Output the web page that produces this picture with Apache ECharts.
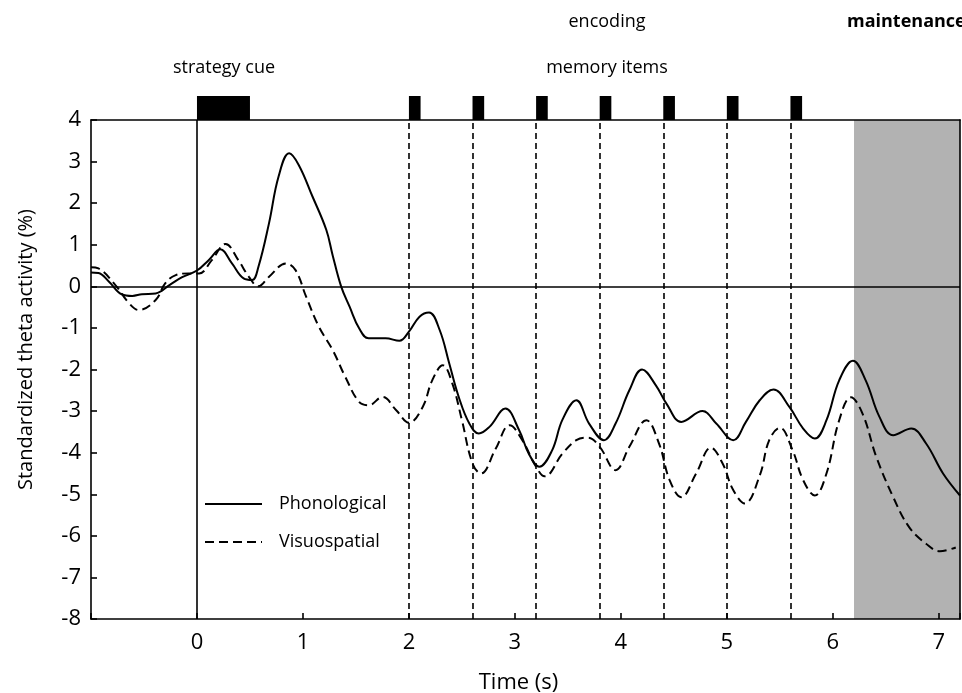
<!DOCTYPE html>
<html>
<head>
<meta charset="utf-8">
<title>theta activity</title>
<script src="https://cdn.jsdelivr.net/npm/echarts@6/dist/echarts.min.js"></script>
<style>
  html,body{margin:0;padding:0;background:#fff;}
  #chart{width:962px;height:693px;}
</style>
</head>
<body>
<div id="chart"></div>
<script>
// time (s) and standardized theta activity (%)
const phonoTime = [-1.0,-0.93,-0.83,-0.71,-0.61,-0.52,-0.39,-0.26,-0.14,0.0,0.11,0.22,0.33,0.44,0.52,0.58,0.68,0.77,0.87,0.96,
  1.09,1.22,1.28,1.36,1.44,1.53,1.62,1.78,1.91,2.0,2.1,2.19,2.29,2.38,2.47,2.57,2.66,2.76,2.91,3.04,3.13,3.23,3.35,3.45,3.58,
  3.7,3.84,3.95,4.08,4.2,4.33,4.43,4.57,4.77,4.9,5.06,5.18,5.31,5.44,5.59,5.72,5.83,5.94,6.06,6.19,6.31,6.44,6.57,6.74,6.88,7.04,7.2]
const phonoValue = [0.33,0.32,0.11,-0.19,-0.23,-0.19,-0.17,0.03,0.22,0.38,0.63,0.89,0.55,0.19,0.15,0.47,1.52,2.64,3.2,2.92,
  2.16,1.36,0.75,0.0,-0.49,-1.01,-1.25,-1.25,-1.31,-1.09,-0.73,-0.63,-1.05,-1.85,-2.66,-3.3,-3.54,-3.38,-2.94,-3.46,-4.02,-4.34,-3.95,-3.2,-2.74,
  -3.3,-3.7,-3.3,-2.5,-2.0,-2.38,-2.82,-3.26,-3.0,-3.3,-3.7,-3.26,-2.74,-2.48,-2.9,-3.42,-3.66,-3.22,-2.26,-1.79,-2.26,-3.14,-3.58,-3.42,-3.78,-4.5,-5.03]
const visuoTime = [-1.0,-0.93,-0.77,-0.64,-0.55,-0.39,-0.3,-0.2,-0.08,0.02,0.14,0.27,0.39,0.49,0.58,0.68,0.84,0.93,1.03,1.15,
  1.28,1.4,1.53,1.62,1.75,1.88,2.0,2.13,2.22,2.32,2.41,2.5,2.6,2.68,2.82,2.95,3.07,3.2,3.28,3.45,3.58,3.69,3.8,3.95,4.08,
  4.24,4.36,4.46,4.57,4.71,4.85,4.96,5.06,5.17,5.31,5.4,5.5,5.62,5.72,5.83,5.94,6.06,6.17,6.28,6.41,6.57,6.72,6.88,7.01,7.16]
const visuoValue = [0.46,0.43,0.03,-0.41,-0.57,-0.33,0.07,0.27,0.31,0.31,0.63,1.02,0.63,0.23,0.0,0.23,0.55,0.39,-0.25,-0.97,
  -1.53,-2.18,-2.78,-2.86,-2.66,-2.98,-3.28,-2.9,-2.26,-1.9,-2.34,-3.22,-4.26,-4.5,-3.9,-3.34,-3.7,-4.34,-4.57,-4.02,-3.7,-3.64,-3.86,-4.42,-3.86,
  -3.22,-3.78,-4.66,-5.07,-4.5,-3.88,-4.26,-4.9,-5.22,-4.55,-3.7,-3.4,-3.94,-4.66,-5.03,-4.5,-3.22,-2.67,-3.06,-4.1,-5.07,-5.79,-6.19,-6.37,-6.28]

// stimulus blocks [start, end] in seconds
const cueBlocks = [[0,0.5]]
const itemBlocks = [[2.0,2.11],[2.6,2.71],[3.2,3.31],[3.8,3.91],[4.4,4.51],[5.0,5.11],[5.6,5.71]]
const maintenancePeriod = [[6.2,7.2]]

const FONT = 'Open Sans'
const zip = (t,v) => t.map((x,i) => [x,v[i]])

const chart = echarts.init(document.getElementById('chart'))

const axisLine = {onZero:false,lineStyle:{color:'#000',width:1.6}}
const axisTick = {show:true,inside:true,length:6,lineStyle:{color:'#000',width:1.6}}
const textLabel = (text,x,y,align,weight) => ({
  type:'text',x:x,y:y,
  style:{text:text,font:(weight || 'normal') + ' 18px "Open Sans"',fill:'#000',
    textAlign:align,textVerticalAlign:'middle',align:align,verticalAlign:'middle'}
})

const option = {
  animation:false,
  textStyle:{fontFamily:FONT,color:'#000'},
  grid:{left:91,right:2,top:120,bottom:74,outerBoundsMode:'none',containLabel:false},
  legend:{
    data:['Phonological','Visuospatial'],
    orient:'vertical',
    left:204,
    top:495,
    padding:0,
    itemWidth:57,
    itemHeight:14,
    itemGap:20,
    selectedMode:false,
    itemStyle:{opacity:0},
    textStyle:{fontFamily:FONT,fontSize:18,color:'#000',padding:[0,0,0,12]}
  },
  graphic:[
    textLabel('strategy cue',224,68,'center'),
    textLabel('encoding',607,22,'center'),
    textLabel('memory items',607,68,'center'),
    textLabel('maintenance',847,22,'left','bold')
  ],
  xAxis:[
    {
      type:'value',min:-1,max:7.2,interval:1,position:'bottom',z:10,
      axisLine:axisLine,
      axisTick:axisTick,
      axisLabel:{
        fontSize:22,color:'#000',margin:13,fontFamily:FONT,
        formatter:v => (v >= 0 && v <= 7 && Number.isInteger(v)) ? String(v) : ''
      },
      splitLine:{show:false},
      name:'Time (s)',nameLocation:'middle',nameGap:53,
      nameTextStyle:{fontSize:22,color:'#000',fontFamily:FONT,padding:[0,14,0,0]}
    },
    {
      type:'value',min:-1,max:7.2,position:'top',z:10,
      axisLine:axisLine,axisTick:{show:false},axisLabel:{show:false},splitLine:{show:false}
    }
  ],
  yAxis:[
    {
      type:'value',min:-8,max:4,interval:1,position:'left',z:10,
      axisLine:axisLine,
      axisTick:axisTick,
      axisLabel:{fontSize:22,color:'#000',margin:10,fontFamily:FONT},
      splitLine:{show:false},
      name:'Standardized theta activity (%)',nameLocation:'middle',nameGap:55,
      nameTextStyle:{fontSize:20,color:'#000',fontFamily:FONT,padding:[0,0,0,40]}
    },
    {
      type:'value',min:-8,max:4,position:'right',z:10,
      axisLine:axisLine,axisTick:{show:false},axisLabel:{show:false},splitLine:{show:false}
    }
  ],
  series:[
    {
      // maintenance shading
      type:'custom',
      z:1,
      silent:true,
      encode:{x:[0,1]},
      data:maintenancePeriod,
      renderItem(params,api){
        const p0 = api.coord([api.value(0),4])
        const p1 = api.coord([api.value(1),-8])
        return {type:'rect',shape:{x:p0[0],y:p0[1],width:p1[0]-p0[0],height:p1[1]-p0[1]},style:{fill:'#b2b2b2'}}
      }
    },
    {
      // black stimulus blocks above the plot
      type:'custom',
      z:4,
      silent:true,
      clip:false,
      encode:{x:[0,1]},
      data:cueBlocks.concat(itemBlocks),
      renderItem(params,api){
        const p0 = api.coord([api.value(0),4])
        const p1 = api.coord([api.value(1),4])
        return {type:'rect',shape:{x:p0[0],y:p0[1]-24,width:p1[0]-p0[0],height:24},style:{fill:'#000'}}
      }
    },
    {
      // reference lines: stimulus onset, item onsets, zero
      type:'line',
      z:2,
      data:[],
      silent:true,
      markLine:{
        silent:true,
        symbol:['none','none'],
        label:{show:false},
        lineStyle:{color:'#000',width:1.6,type:[6,4]},
        data:[
          {xAxis:cueBlocks[0][0],lineStyle:{type:'solid',width:1.6}},
          {yAxis:0,lineStyle:{type:'solid',width:1.6}}
        ].concat(itemBlocks.map(b => ({xAxis:b[0]})))
      }
    },
    {
      name:'Phonological',
      type:'line',
      z:3,
      smooth:0.4,
      symbol:'none',
      lineStyle:{color:'#000',width:2},
      itemStyle:{color:'#000'},
      data:zip(phonoTime,phonoValue)
    },
    {
      name:'Visuospatial',
      type:'line',
      z:3,
      smooth:0.4,
      symbol:'none',
      lineStyle:{color:'#000',width:2,type:[9,5]},
      itemStyle:{color:'#000'},
      data:zip(visuoTime,visuoValue)
    }
  ]
}
chart.setOption(option)
</script>
</body>
</html>
